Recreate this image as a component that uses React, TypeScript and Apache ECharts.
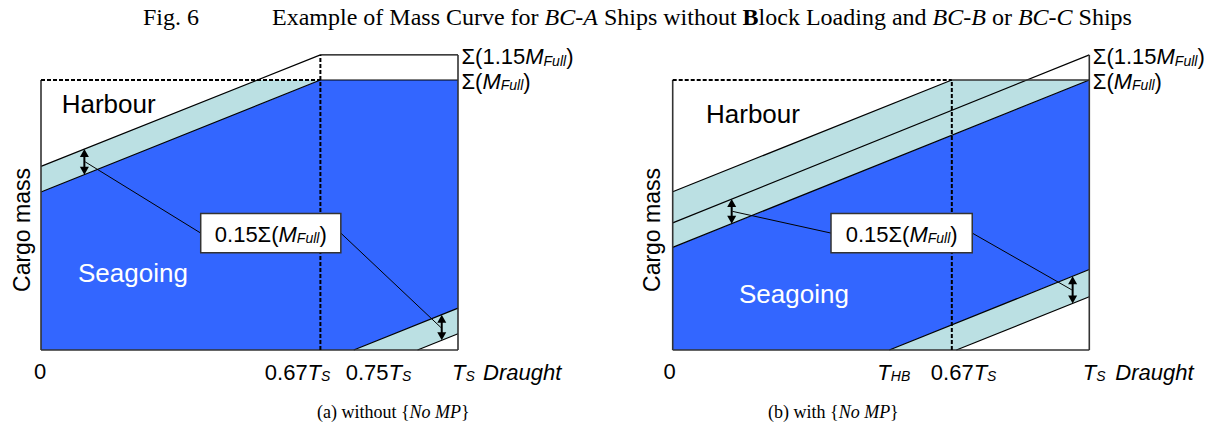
import React, { useEffect, useRef } from "react";
import * as echarts from "echarts";

// ---------------- data (x: fraction of T_S, y: % of Σ(M_Full)) ----------------
const fullMass = 100;
const fullMass115 = 109.3;
const dashX = 0.67;

// panel (a)
const aSeagoingTop = [[0, 58.5], [0.67, 100], [1, 100]];
const aHarbourTop = [[0, 68], [0.67, 109.3], [1, 109.3]];
const aLowerTop = [[0.75, 0], [1, 15.5]];
const aLowerBottom = [[0.903, 0], [1, 6]];
const aArrowX = [0.104, 0.961];
const aBoxX = [0.383, 0.719];
const aBoxY = [36.0, 50.6];
const aTickValues = [0, 0.67, 0.75, 1];
const aTickLabels = ["0", "{n|0.67}{i|T}{s|S}", "{n|0.75}{i|T}{s|S}", "{i|T}{s|S}"];

// panel (b)
const bSeagoingTop = [[0, 38], [1, 100]];
const bMiddle = [[0, 47.1], [1, 109.3]];
const bHarbourTop = [[0, 58.6], [0.67, 100]];
const bLowerTop = [[0.52, 0], [1, 29.8]];
const bLowerBottom = [[0.681, 0], [1, 19.7]];
const bArrowX = [0.1416, 0.96];
const bBoxX = [0.38, 0.719];
const bBoxY = [36.0, 50.6];
const bTickValues = [0, 0.52, 0.67, 1];
const bTickLabels = ["0", "{i|T}{s|HB}", "{n|0.67}{i|T}{s|S}", "{i|T}{s|S}"];

const axisName = "{i|Draught}";
const boxLabel = "{n|0.15Σ(}{i|M}{s|Full}{n|)}";
const sigma115 = "{n|Σ(1.15}{i|M}{s|Full}{n|)}";
const sigma100 = "{n|Σ(}{i|M}{s|Full}{n|)}";

// ---------------- styles ----------------
const SANS = "Liberation Sans";
const SERIF = "Liberation Serif";
const BLUE = "#3366FF";
const LIGHT = "#BBE0E3";
const EDGE = "#333333";

const aTickDx = [-1, 10, -8, -6];
const aTickAlign = ["center", "right", "left", "left"];
const bTickDx = [-3, -12, -21, -6.6];
const bTickAlign = ["center", "left", "left", "left"];

const RICH: any = {
  n: { fontFamily: SANS, fontSize: 22, lineHeight: 24, verticalAlign: "bottom", fill: "#000", color: "#000" },
  i: { fontFamily: SANS, fontSize: 22, fontStyle: "italic", lineHeight: 24, verticalAlign: "bottom", fill: "#000", color: "#000" },
  s: { fontFamily: SANS, fontSize: 14, fontStyle: "italic", lineHeight: 16, verticalAlign: "bottom", fill: "#000", color: "#000" },
};

const SERIF_RICH: any = {
  i: { fontFamily: SERIF, fontSize: 18, fontStyle: "italic", fill: "#000", color: "#000" },
  b: { fontFamily: SERIF, fontSize: 18, fontWeight: "bold", fill: "#000", color: "#000" },
};
const TITLE_RICH: any = {
  i: { fontFamily: SERIF, fontSize: 24, fontStyle: "italic", fill: "#000", color: "#000" },
  b: { fontFamily: SERIF, fontSize: 24, fontWeight: "bold", fill: "#000", color: "#000" },
};

// ---------------- helpers ----------------
function yAt(line: number[][], x: number) {
  for (let k = 0; k < line.length - 1; k++) {
    const [x0, y0] = line[k];
    const [x1, y1] = line[k + 1];
    if (x >= x0 - 1e-9 && x <= x1 + 1e-9) return y0 + ((y1 - y0) * (x - x0)) / (x1 - x0);
  }
  return line[line.length - 1][1];
}
function xAtY(line: number[][], y: number) {
  for (let k = 0; k < line.length - 1; k++) {
    const [x0, y0] = line[k];
    const [x1, y1] = line[k + 1];
    if ((y - y0) * (y - y1) <= 0 && y1 !== y0) return x0 + ((x1 - x0) * (y - y0)) / (y1 - y0);
  }
  return line[0][0];
}

function polySeries(g: number, pts: number[][], color: string) {
  return {
    type: "custom",
    xAxisIndex: g,
    yAxisIndex: g,
    data: [pts[0]],
    silent: true,
    z: 1,
    renderItem: (_p: any, api: any) => ({
      type: "polygon",
      shape: { points: pts.map((p) => api.coord(p)) },
      style: { fill: color },
    }),
  };
}

function lineSeries(g: number, pts: number[][], color: string, width: number, type: any = "solid", z = 3) {
  return {
    type: "line",
    xAxisIndex: g,
    yAxisIndex: g,
    data: pts,
    symbol: "none",
    showSymbol: false,
    silent: true,
    clip: false,
    z,
    lineStyle: { color, width, type, cap: "butt" },
  };
}

function arrowSeries(g: number, arrows: number[][]) {
  return {
    type: "custom",
    xAxisIndex: g,
    yAxisIndex: g,
    data: arrows,
    encode: { x: 0, y: [1, 2] },
    silent: true,
    z: 6,
    renderItem: (_p: any, api: any) => {
      const x = api.value(0);
      const p1 = api.coord([x, api.value(1)]);
      const p2 = api.coord([x, api.value(2)]);
      const top = Math.min(p1[1], p2[1]);
      const bot = Math.max(p1[1], p2[1]);
      const cx = p1[0];
      const h = 8;
      const w = 4.5;
      return {
        type: "group",
        children: [
          { type: "line", shape: { x1: cx, y1: top + h - 1, x2: cx, y2: bot - h + 1 }, style: { stroke: "#000", lineWidth: 2 } },
          { type: "polygon", shape: { points: [[cx, top], [cx - w, top + h], [cx + w, top + h]] }, style: { fill: "#000" } },
          { type: "polygon", shape: { points: [[cx, bot], [cx - w, bot - h], [cx + w, bot - h]] }, style: { fill: "#000" } },
        ],
      };
    },
  };
}

function boxSeries(g: number, bx: number[], by: number[]) {
  return {
    type: "custom",
    xAxisIndex: g,
    yAxisIndex: g,
    data: [[bx[0], by[0], bx[1], by[1]]],
    silent: true,
    z: 7,
    renderItem: (_p: any, api: any) => {
      const p0 = api.coord([bx[0], by[1]]);
      const p1 = api.coord([bx[1], by[0]]);
      return {
        type: "group",
        children: [
          {
            type: "rect",
            shape: { x: p0[0], y: p0[1], width: p1[0] - p0[0], height: p1[1] - p0[1] },
            style: { fill: "#fff", stroke: EDGE, lineWidth: 1.5 },
          },
          {
            type: "text",
            x: (p0[0] + p1[0]) / 2,
            y: (p0[1] + p1[1]) / 2,
            style: {
              text: boxLabel,
              rich: RICH,
              fontFamily: SANS,
              fontSize: 22,
              fill: "#000",
              align: "center",
              verticalAlign: "middle",
              textAlign: "center",
              textVerticalAlign: "middle",
            },
          },
        ],
      };
    },
  };
}

type TextItem = { x: number; y: number; dx: number; dy: number; text: string; align: string };
function textSeries(g: number, items: TextItem[]) {
  return {
    type: "custom",
    xAxisIndex: g,
    yAxisIndex: g,
    data: items.map((it) => [it.x, it.y]),
    silent: true,
    clip: false,
    z: 8,
    renderItem: (params: any, api: any) => {
      const it = items[params.dataIndex];
      const p = api.coord([it.x, it.y]);
      return {
        type: "text",
        x: p[0] + it.dx,
        y: p[1] + it.dy,
        style: {
          text: it.text,
          rich: RICH,
          fontFamily: SANS,
          fontSize: 22,
          fill: "#000",
          align: it.align,
          textAlign: it.align,
          verticalAlign: "middle",
          textVerticalAlign: "middle",
        },
      };
    },
  };
}

function panelSeries(
  g: number,
  seagoingPoly: number[][],
  upperBandPoly: number[][],
  lowerBandPoly: number[][],
  slopedLines: number[][][],
  boxLines: number[][][],
  dashLines: number[][][],
  arrows: number[][],
  bx: number[],
  by: number[],
  tickValues: number[],
  tickLabels: string[],
  tickDx: number[],
  tickAlign: string[],
  nameDx: number
) {
  const s: any[] = [];
  s.push(polySeries(g, seagoingPoly, BLUE));
  s.push(polySeries(g, upperBandPoly, LIGHT));
  s.push(polySeries(g, lowerBandPoly, LIGHT));
  slopedLines.forEach((l) => s.push(lineSeries(g, l, "#000", 1.2, "solid", 3)));
  boxLines.forEach((l) => s.push(lineSeries(g, l, EDGE, 1.6, "solid", 4)));
  dashLines.forEach((l) => s.push(lineSeries(g, l, "#000", 2, [4, 2], 5)));
  const midY = (by[0] + by[1]) / 2;
  const m1 = [arrows[0][0] + 0.002, (arrows[0][1] + arrows[0][2]) / 2];
  const m2 = [arrows[1][0] - 0.002, (arrows[1][1] + arrows[1][2]) / 2];
  s.push(lineSeries(g, [m1, [bx[0], midY]], "#000", 1, "solid", 5));
  s.push(lineSeries(g, [[bx[1], midY], m2], "#000", 1, "solid", 5));
  s.push(arrowSeries(g, arrows));
  s.push(boxSeries(g, bx, by));
  const items: TextItem[] = tickValues.map((v, k) => ({
    x: v,
    y: 0,
    dx: tickDx[k],
    dy: 21,
    text: tickLabels[k],
    align: tickAlign[k],
  }));
  items.push({ x: 1, y: 0, dx: nameDx, dy: 21, text: axisName, align: "left" });
  items.push({ x: 1, y: fullMass115, dx: 3.5, dy: 1, text: sigma115, align: "left" });
  items.push({ x: 1, y: fullMass, dx: 3.5, dy: 0, text: sigma100, align: "left" });
  s.push(textSeries(g, items));
  return s;
}

function buildOption() {
  // panel (a)
  const aXi = xAtY(aHarbourTop, fullMass);
  const aSeagoingPoly = [[0, 0], ...aSeagoingTop, ...aLowerTop.slice().reverse()];
  const aUpperBand = [aSeagoingTop[0], aHarbourTop[0], [aXi, fullMass], [dashX, fullMass]];
  const aLowerBand = [...aLowerTop, ...aLowerBottom.slice().reverse()];
  const aArrows = [
    [aArrowX[0], yAt(aHarbourTop, aArrowX[0]), yAt(aSeagoingTop, aArrowX[0])],
    [aArrowX[1], yAt(aLowerTop, aArrowX[1]), yAt(aLowerBottom, aArrowX[1])],
  ];
  const aSeries = panelSeries(
    0,
    aSeagoingPoly,
    aUpperBand,
    aLowerBand,
    [aSeagoingTop, aHarbourTop, aLowerTop, aLowerBottom],
    [
      [[0, 0], [0, fullMass]],
      [[0, 0], [1, 0]],
      [[1, 0], [1, fullMass115]],
    ],
    [
      [[0, fullMass], [dashX, fullMass]],
      [[dashX, 0], [dashX, fullMass115]],
    ],
    aArrows,
    aBoxX,
    aBoxY,
    aTickValues,
    aTickLabels,
    aTickDx,
    aTickAlign,
    25
  );

  // panel (b)
  const bSeagoingPoly = [[0, 0], ...bSeagoingTop, ...bLowerTop.slice().reverse()];
  const bUpperBand = [bSeagoingTop[0], ...bHarbourTop, [1, fullMass]];
  const bLowerBand = [...bLowerTop, ...bLowerBottom.slice().reverse()];
  const bArrows = [
    [bArrowX[0], yAt(bMiddle, bArrowX[0]), yAt(bSeagoingTop, bArrowX[0])],
    [bArrowX[1], yAt(bLowerTop, bArrowX[1]), yAt(bLowerBottom, bArrowX[1])],
  ];
  const bSeries = panelSeries(
    1,
    bSeagoingPoly,
    bUpperBand,
    bLowerBand,
    [bSeagoingTop, bMiddle, bHarbourTop, bLowerTop, bLowerBottom],
    [
      [[0, 0], [0, fullMass]],
      [[0, 0], [1, 0]],
      [[1, 0], [1, fullMass115]],
      [[dashX, fullMass], [1, fullMass]],
    ],
    [
      [[0, fullMass], [dashX, fullMass]],
      [[dashX, 0], [dashX, fullMass]],
    ],
    bArrows,
    bBoxX,
    bBoxY,
    bTickValues,
    bTickLabels,
    bTickDx,
    bTickAlign,
    26
  );

  const txt = (x: number, y: number, text: string, font: string, opts: any = {}) => ({
    type: "text",
    x,
    y,
    rotation: opts.rotation || 0,
    style: {
      text,
      font,
      fill: opts.fill || "#000",
      rich: opts.rich,
      align: opts.align || "left",
      textAlign: opts.align || "left",
      verticalAlign: "middle",
      textVerticalAlign: "middle",
    },
    silent: true,
    z: 20,
  });

  return {
    animation: false,
    backgroundColor: "#fff",
    grid: [
      { left: 41, top: 26, width: 417, height: 324 },
      { left: 672.7, top: 26, width: 416.6, height: 324 },
    ],
    xAxis: [0, 1].map((g) => ({ gridIndex: g, type: "value", min: 0, max: 1, show: false })),
    yAxis: [0, 1].map((g) => ({ gridIndex: g, type: "value", min: 0, max: 120, show: false })),
    series: [...aSeries, ...bSeries],
    graphic: [
      txt(143, 17, "Fig. 6", `24px "${SERIF}"`),
      txt(
        272,
        17,
        "Example of Mass Curve for {i|BC-A} Ships without {b|B}lock Loading and {i|BC-B} or {i|BC-C} Ships",
        `24px "${SERIF}"`,
        { rich: TITLE_RICH }
      ),
      txt(61.7, 104, "Harbour", `26px "${SANS}"`),
      txt(706, 114, "Harbour", `26px "${SANS}"`),
      txt(78, 273, "Seagoing", `26px "${SANS}"`, { fill: "#fff" }),
      txt(739, 294, "Seagoing", `26px "${SANS}"`, { fill: "#fff" }),
      txt(22, 230, "Cargo mass", `23px "${SANS}"`, { rotation: Math.PI / 2, align: "center" }),
      txt(652, 230, "Cargo mass", `23px "${SANS}"`, { rotation: Math.PI / 2, align: "center" }),
      txt(317, 412, "(a) without {{i|No MP}}", `18px "${SERIF}"`, { rich: SERIF_RICH }),
      txt(768, 412, "(b) with {{i|No MP}}", `18px "${SERIF}"`, { rich: SERIF_RICH }),
    ],
  };
}

export default function App() {
  const ref = useRef<HTMLDivElement>(null);
  useEffect(() => {
    document.body.style.margin = "0";
    const chart = echarts.init(ref.current!, undefined, { renderer: "svg" });
    chart.setOption(buildOption() as any);
    return () => chart.dispose();
  }, []);
  return <div ref={ref} style={{ width: 1213, height: 429 }} />;
}
